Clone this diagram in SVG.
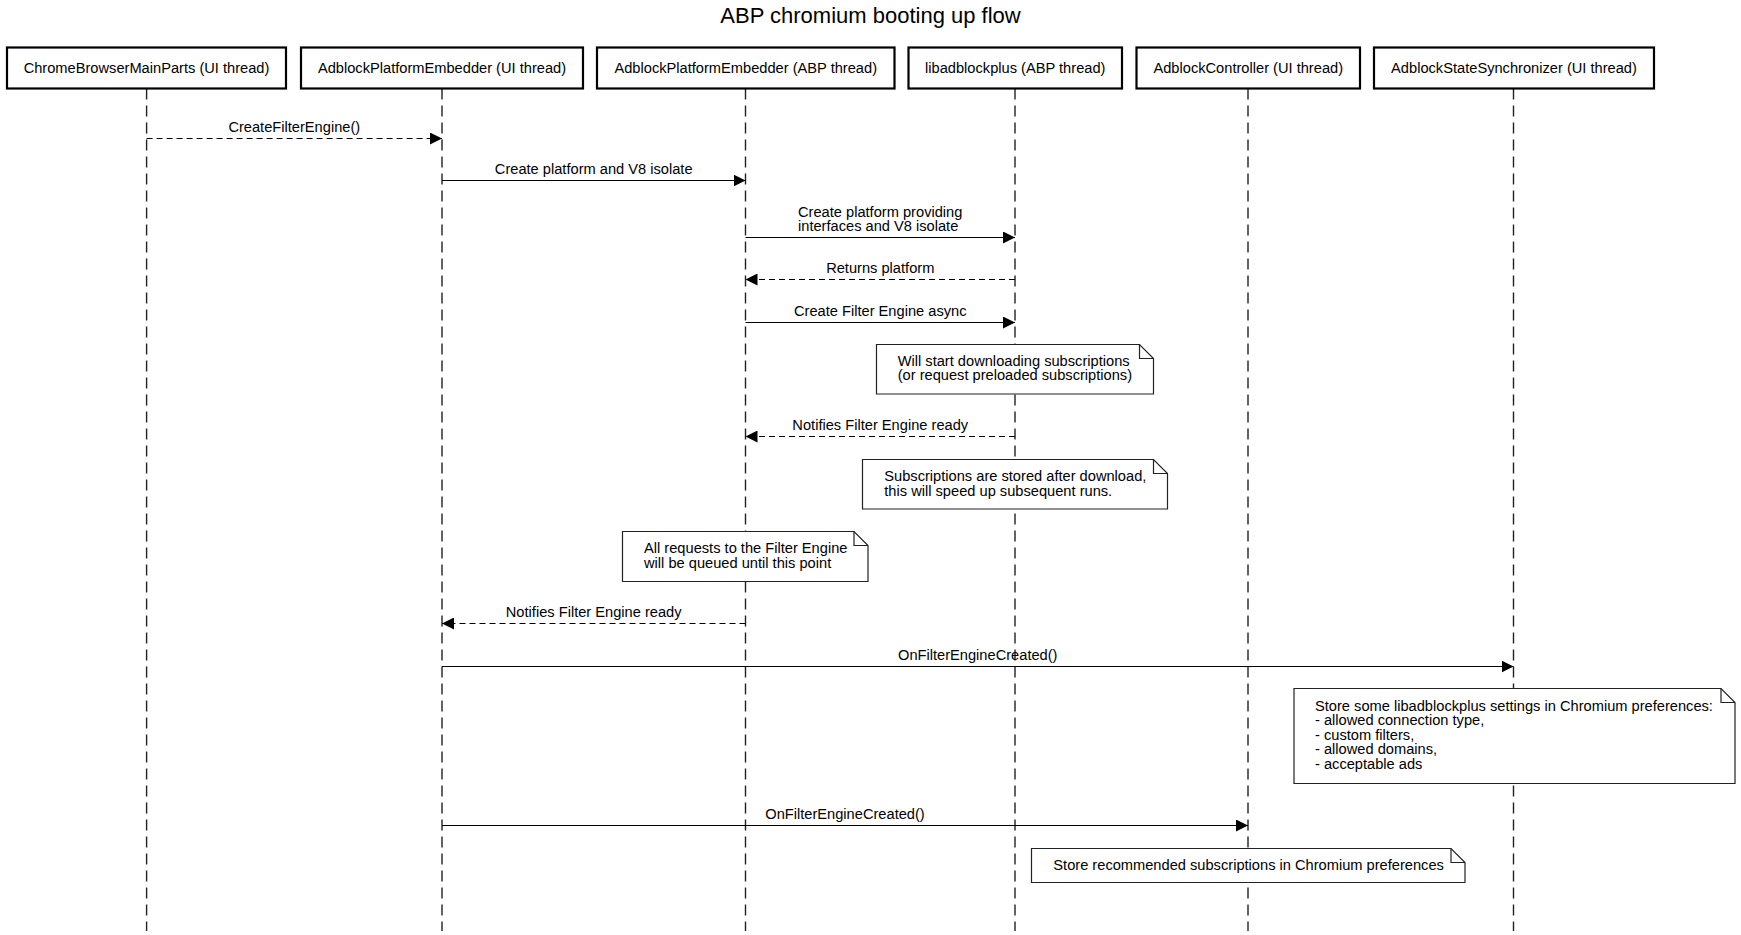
<svg xmlns="http://www.w3.org/2000/svg" width="1741" height="935" viewBox="0 0 1741 935">
<style>
text{font-family:"Liberation Sans",Arial,sans-serif;font-size:14.65px;fill:#000}
.title{font-size:22px;text-anchor:middle}
.ctr{text-anchor:middle}
.box{fill:#fff;stroke:#000;stroke-width:2.2}
.life{stroke:#222;stroke-width:1.4;stroke-dasharray:11 6;fill:none}
.msg{stroke:#000;stroke-width:1;fill:none}
.dash{stroke-dasharray:6 4}
.note{fill:#fff;stroke:#222;stroke-width:1.2}
.fold{fill:none;stroke:#222;stroke-width:1.2}
</style>
<defs>
<marker id="ah" markerUnits="userSpaceOnUse" markerWidth="12" markerHeight="12" refX="12" refY="6" orient="auto">
<path d="M0,0 L12,6 L0,12 Z" fill="#000"/>
</marker>
</defs>
<rect width="1741" height="935" fill="#fff"/>
<text class="title" x="870.5" y="23">ABP chromium booting up flow</text>

<g id="p1"><line class="life" x1="146.6" y1="88.5" x2="146.6" y2="931"/><rect class="box" x="7" y="47.5" width="279" height="41"/><text class="ctr" x="146.5" y="72.5">ChromeBrowserMainParts (UI thread)</text></g>
<g id="p2"><line class="life" x1="442" y1="88.5" x2="442" y2="931"/><rect class="box" x="301" y="47.5" width="282" height="41"/><text class="ctr" x="442" y="72.5">AdblockPlatformEmbedder (UI thread)</text></g>
<g id="p3"><line class="life" x1="745.5" y1="88.5" x2="745.5" y2="931"/><rect class="box" x="597" y="47.5" width="297.5" height="41"/><text class="ctr" x="745.75" y="72.5">AdblockPlatformEmbedder (ABP thread)</text></g>
<g id="p4"><line class="life" x1="1015" y1="88.5" x2="1015" y2="931"/><rect class="box" x="908.5" y="47.5" width="213.5" height="41"/><text class="ctr" x="1015.25" y="72.5">libadblockplus (ABP thread)</text></g>
<g id="p5"><line class="life" x1="1248" y1="88.5" x2="1248" y2="931"/><rect class="box" x="1136.5" y="47.5" width="223.5" height="41"/><text class="ctr" x="1248.25" y="72.5">AdblockController (UI thread)</text></g>
<g id="p6"><line class="life" x1="1513.5" y1="88.5" x2="1513.5" y2="931"/><rect class="box" x="1374" y="47.5" width="280" height="41"/><text class="ctr" x="1514" y="72.5">AdblockStateSynchronizer (UI thread)</text></g>

<g id="connectors">
<line class="msg dash" x1="146.6" y1="138.5" x2="442" y2="138.5" marker-end="url(#ah)"/>
<text class="ctr" x="294.3" y="131.5">CreateFilterEngine()</text>
<line class="msg" x1="442" y1="180.5" x2="745.5" y2="180.5" marker-end="url(#ah)"/>
<text class="ctr" x="593.7" y="173.5">Create platform and V8 isolate</text>
<line class="msg" x1="745.5" y1="237.5" x2="1015" y2="237.5" marker-end="url(#ah)"/>
<text x="798" y="216.5">Create platform providing</text>
<text x="798" y="231">interfaces and V8 isolate</text>
<line class="msg dash" x1="1015" y1="279.5" x2="745.5" y2="279.5" marker-end="url(#ah)"/>
<text class="ctr" x="880.25" y="273">Returns platform</text>
<line class="msg" x1="745.5" y1="322.5" x2="1015" y2="322.5" marker-end="url(#ah)"/>
<text class="ctr" x="880.25" y="315.5">Create Filter Engine async</text>
<line class="msg dash" x1="1015" y1="436.5" x2="745.5" y2="436.5" marker-end="url(#ah)"/>
<text class="ctr" x="880.25" y="430">Notifies Filter Engine ready</text>
<line class="msg dash" x1="745.5" y1="623.5" x2="442" y2="623.5" marker-end="url(#ah)"/>
<text class="ctr" x="593.7" y="617">Notifies Filter Engine ready</text>
<line class="msg" x1="442" y1="666.5" x2="1513.5" y2="666.5" marker-end="url(#ah)"/>
<text class="ctr" x="977.75" y="659.5">OnFilterEngineCreated()</text>
<line class="msg" x1="442" y1="825.5" x2="1248" y2="825.5" marker-end="url(#ah)"/>
<text class="ctr" x="845" y="819">OnFilterEngineCreated()</text>
</g>

<g id="n1">
<path class="note" d="M876.5,344.5 H1139.5 L1153.5,358.5 V394 H876.5 Z"/>
<path class="fold" d="M1139.5,344.5 V358.5 H1153.5"/>
<text x="897.7" y="365.5">Will start downloading subscriptions</text>
<text x="897.7" y="380">(or request preloaded subscriptions)</text>
</g>
<g id="n2">
<path class="note" d="M862.5,459.5 H1153.5 L1167.5,473.5 V509 H862.5 Z"/>
<path class="fold" d="M1153.5,459.5 V473.5 H1167.5"/>
<text x="884.3" y="480.5">Subscriptions are stored after download,</text>
<text x="884.3" y="495.5">this will speed up subsequent runs.</text>
</g>
<g id="n3">
<path class="note" d="M622.5,531.5 H854 L868,545.5 V581.5 H622.5 Z"/>
<path class="fold" d="M854,531.5 V545.5 H868"/>
<text x="644" y="552.5">All requests to the Filter Engine</text>
<text x="644" y="567.5">will be queued until this point</text>
</g>
<g id="n4">
<path class="note" d="M1294,688.5 H1721 L1735,702.5 V783.5 H1294 Z"/>
<path class="fold" d="M1721,688.5 V702.5 H1735"/>
<text x="1315" y="710.5">Store some libadblockplus settings in Chromium preferences:</text>
<text x="1315" y="725">- allowed connection type,</text>
<text x="1315" y="739.5">- custom filters,</text>
<text x="1315" y="754">- allowed domains,</text>
<text x="1315" y="768.5">- acceptable ads</text>
</g>
<g id="n5">
<path class="note" d="M1031.5,848.5 H1451 L1465,862.5 V882.5 H1031.5 Z"/>
<path class="fold" d="M1451,848.5 V862.5 H1465"/>
<text x="1053.3" y="869.5">Store recommended subscriptions in Chromium preferences</text>
</g>
</svg>
